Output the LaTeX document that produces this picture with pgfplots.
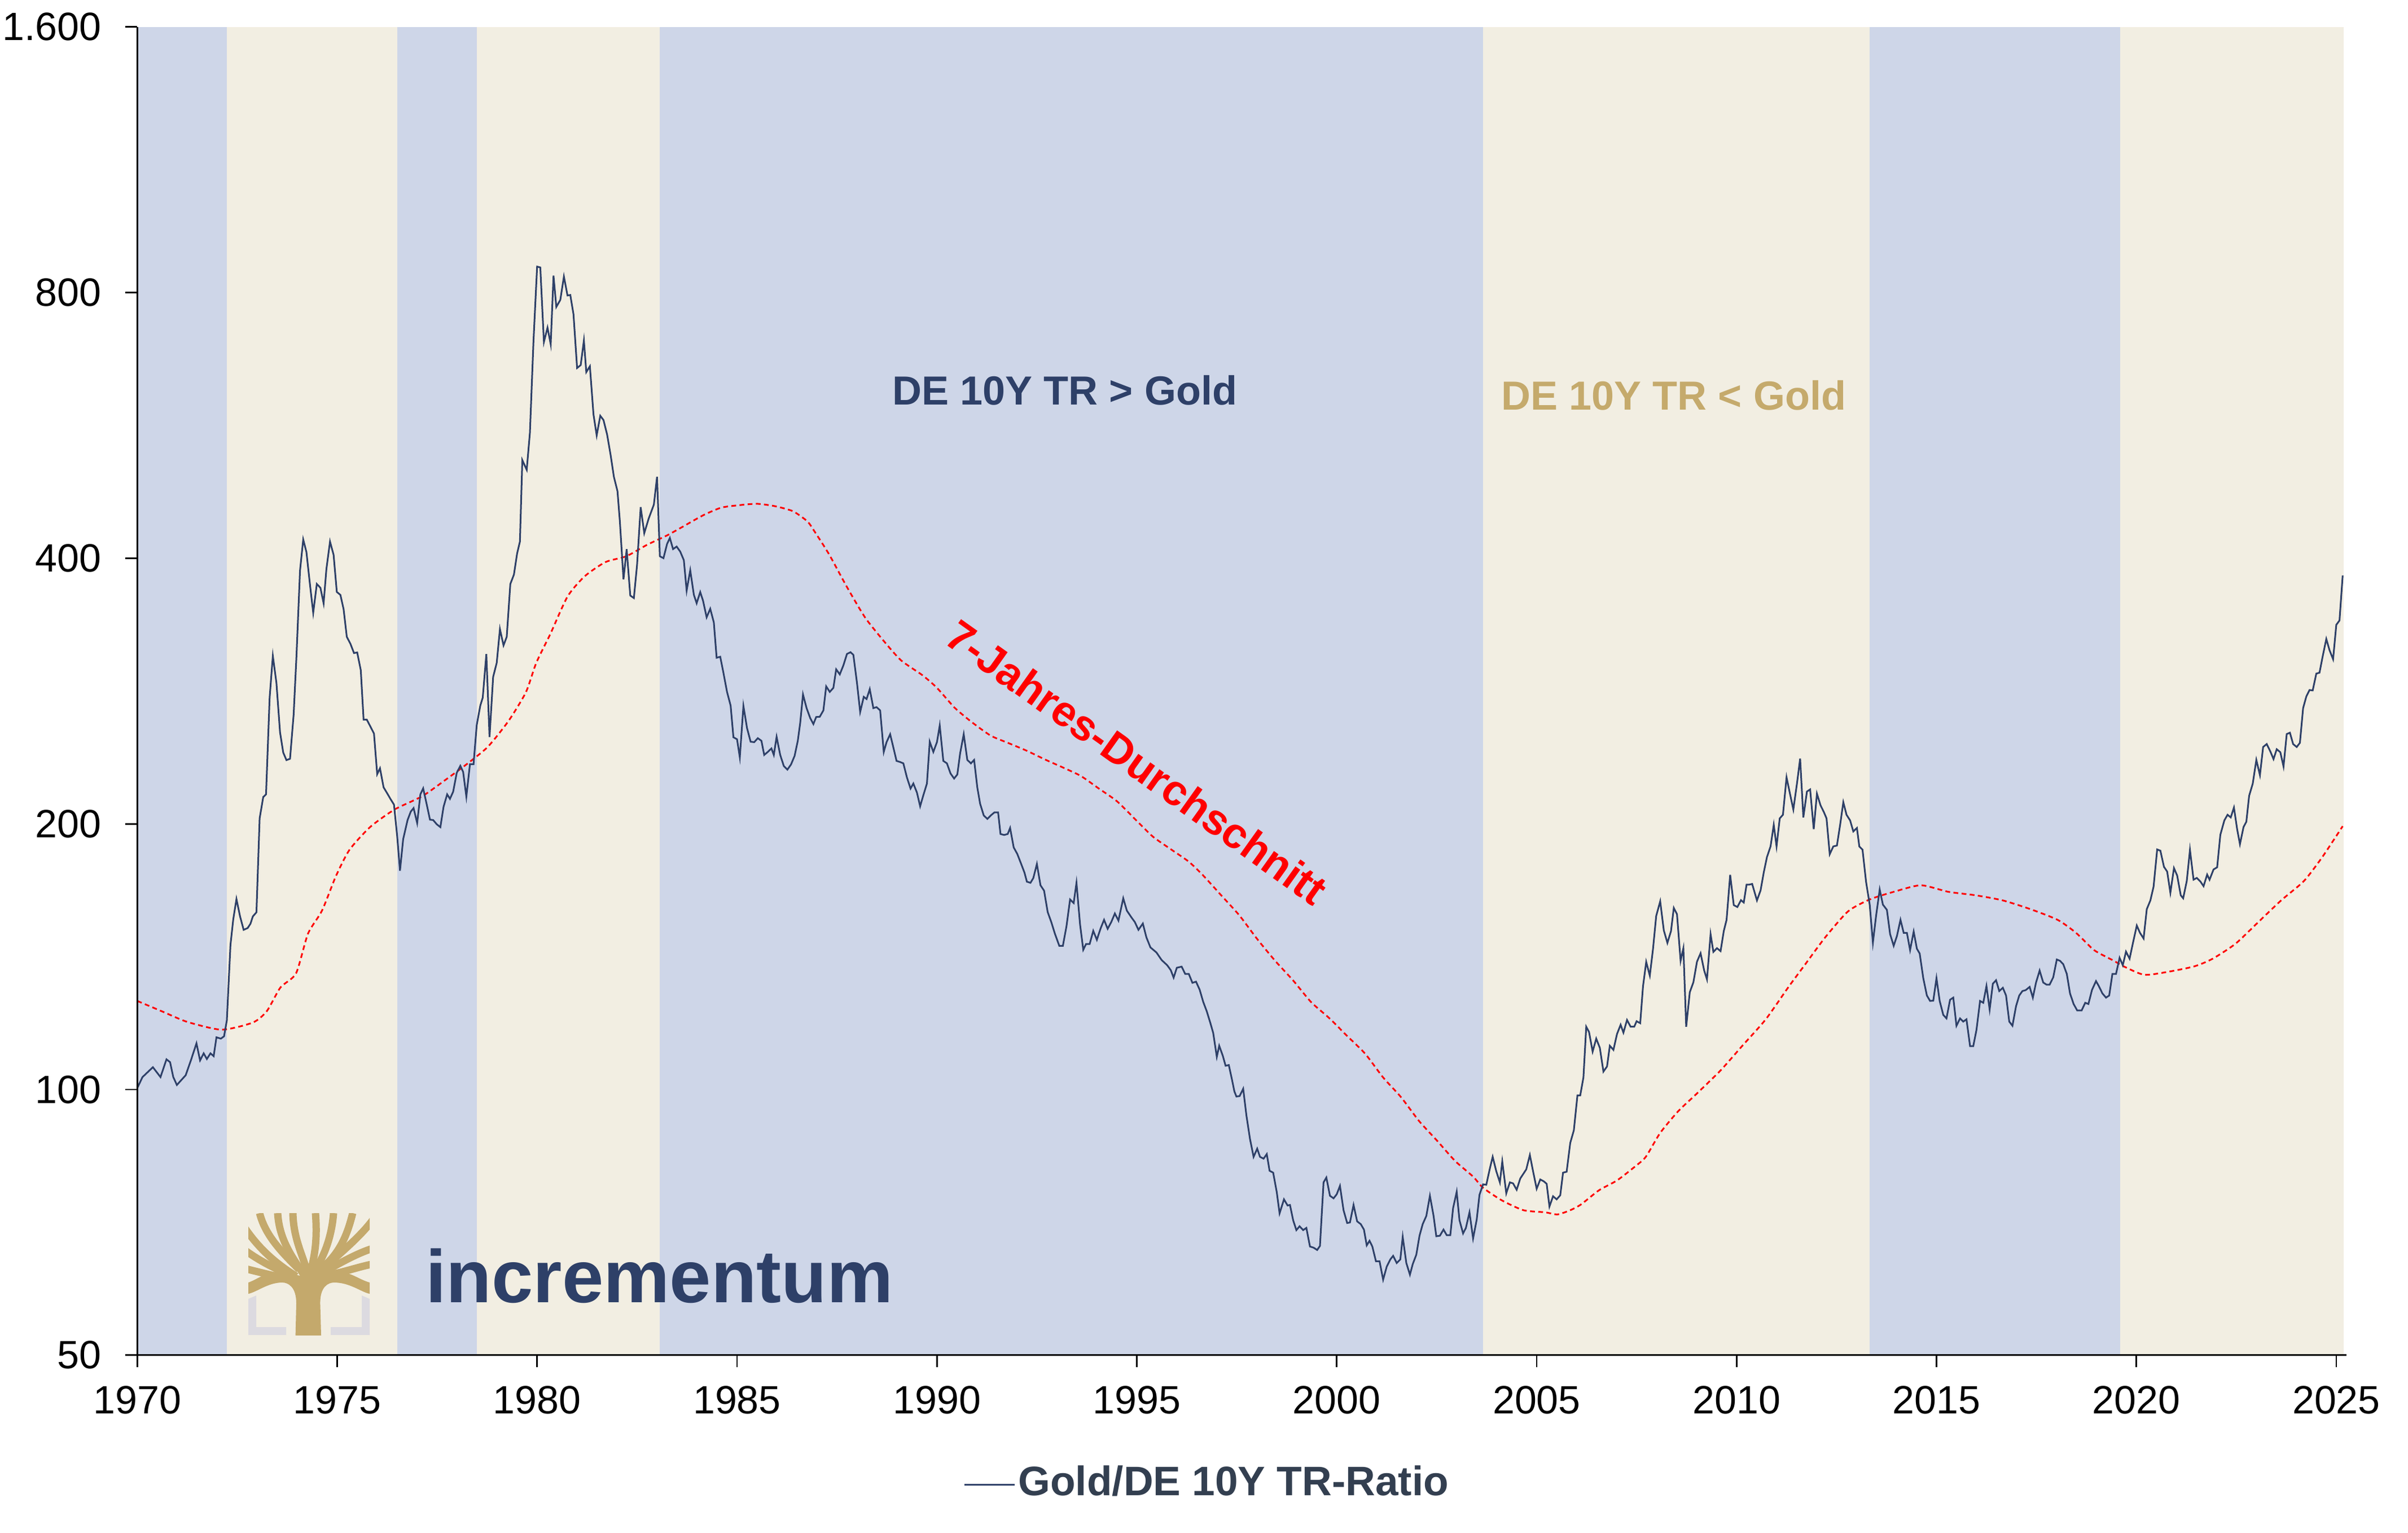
\documentclass[border=0pt]{standalone}
\usepackage{fontspec}
\setmainfont{Liberation Sans}
\usepackage{pgfplots}
\usepackage{pgfplotstable}
\pgfplotsset{compat=1.18}
\definecolor{navy}{HTML}{2E4068}
\definecolor{bandblue}{HTML}{CED6E8}
\definecolor{bandbeige}{HTML}{F2EEE2}
\definecolor{tan}{HTML}{C5AA6C}
\definecolor{legtext}{HTML}{333F50}
\definecolor{logogold}{HTML}{C4A96C}
\definecolor{logogrey}{HTML}{DCDAE0}
\begin{document}
\pgfplotstableread{
year val
1970.00 100.4
1970.13 103.3
1970.39 106.0
1970.58 103.3
1970.73 108.2
1970.82 107.4
1970.90 103.3
1970.99 101.2
1971.21 103.8
1971.34 107.9
1971.48 112.8
1971.57 107.9
1971.66 109.9
1971.74 108.3
1971.83 109.9
1971.91 109.1
1971.98 114.6
1972.09 114.2
1972.17 114.9
1972.24 119.8
1972.33 145.8
1972.40 155.9
1972.48 164.4
1972.57 157.1
1972.66 151.7
1972.76 152.4
1972.83 154.1
1972.89 157.1
1972.98 158.8
1973.06 202.9
1973.15 214.5
1973.22 216.0
1973.31 278.0
1973.39 310.0
1973.48 288.9
1973.57 254.0
1973.65 240.9
1973.73 236.2
1973.82 237.0
1973.91 265.8
1973.98 309.0
1974.07 387.4
1974.15 420.0
1974.23 406.5
1974.32 373.0
1974.40 346.9
1974.49 374.0
1974.58 370.3
1974.66 355.6
1974.73 389.0
1974.82 417.7
1974.91 403.5
1974.99 366.3
1975.08 363.5
1975.16 350.2
1975.24 325.8
1975.33 320.0
1975.42 312.3
1975.50 312.8
1975.59 298.6
1975.66 262.5
1975.74 262.5
1975.83 257.8
1975.92 253.1
1976.00 227.7
1976.07 231.2
1976.16 220.0
1976.25 216.6
1976.33 213.5
1976.42 210.3
1976.50 193.7
1976.57 177.0
1976.65 192.2
1976.76 202.0
1976.84 206.5
1976.91 208.4
1977.00 200.4
1977.08 216.0
1977.15 219.4
1977.24 210.3
1977.32 202.2
1977.40 202.0
1977.49 199.8
1977.58 198.3
1977.66 209.1
1977.75 216.0
1977.82 213.5
1977.90 217.5
1977.99 228.5
1978.08 232.7
1978.15 229.0
1978.23 214.7
1978.32 233.7
1978.41 233.7
1978.49 258.9
1978.58 272.4
1978.64 278.0
1978.73 311.5
1978.81 250.8
1978.90 293.4
1978.99 304.5
1979.07 332.5
1979.16 318.6
1979.24 325.8
1979.33 374.0
1979.42 383.3
1979.50 405.0
1979.57 417.7
1979.63 516.6
1979.74 503.7
1979.82 555.0
1979.91 706.0
1980.00 856.0
1980.08 854.0
1980.17 703.0
1980.26 730.0
1980.34 699.0
1980.41 836.0
1980.48 770.6
1980.58 784.7
1980.67 834.0
1980.76 794.0
1980.83 795.0
1980.91 755.8
1981.00 657.0
1981.09 662.0
1981.17 706.0
1981.23 650.0
1981.32 660.0
1981.41 582.0
1981.49 551.0
1981.58 580.0
1981.66 573.6
1981.75 552.5
1981.84 523.0
1981.92 494.7
1982.01 476.4
1982.07 440.2
1982.16 378.5
1982.24 409.5
1982.33 362.9
1982.42 360.5
1982.50 393.2
1982.59 457.0
1982.68 427.0
1982.79 443.5
1982.92 460.0
1983.00 494.7
1983.07 402.0
1983.16 400.0
1983.25 415.1
1983.32 421.7
1983.40 409.6
1983.49 412.3
1983.58 406.9
1983.67 397.9
1983.74 367.6
1983.83 387.6
1983.92 363.7
1983.99 355.7
1984.08 366.2
1984.15 358.0
1984.24 342.8
1984.33 350.6
1984.42 338.3
1984.49 308.5
1984.58 309.3
1984.66 296.6
1984.75 282.2
1984.84 272.3
1984.91 250.7
1985.00 249.4
1985.07 237.9
1985.16 272.0
1985.25 256.8
1985.34 247.8
1985.43 247.5
1985.52 250.1
1985.61 248.4
1985.68 239.4
1985.77 241.3
1985.86 243.5
1985.92 239.4
1985.99 251.0
1986.08 239.4
1986.17 232.6
1986.26 230.4
1986.35 233.5
1986.44 238.8
1986.52 248.4
1986.58 260.2
1986.65 280.3
1986.74 270.5
1986.83 263.6
1986.91 259.5
1986.98 264.3
1987.07 264.5
1987.16 268.9
1987.23 286.3
1987.32 282.2
1987.41 285.2
1987.48 299.3
1987.57 295.4
1987.66 302.4
1987.75 311.6
1987.84 313.0
1987.91 310.8
1988.00 289.0
1988.08 267.8
1988.17 278.6
1988.24 277.0
1988.32 284.2
1988.41 270.5
1988.49 271.2
1988.58 268.9
1988.67 241.3
1988.74 247.5
1988.83 252.7
1988.90 245.2
1988.99 235.7
1989.08 235.0
1989.16 234.2
1989.25 225.7
1989.34 219.3
1989.41 222.2
1989.50 217.0
1989.58 209.4
1989.66 215.5
1989.75 222.2
1989.82 247.8
1989.91 241.3
1990.00 247.5
1990.07 258.5
1990.16 235.7
1990.25 234.2
1990.34 228.1
1990.43 225.1
1990.51 227.5
1990.58 240.4
1990.67 252.7
1990.76 236.3
1990.85 234.2
1990.93 236.3
1991.01 219.9
1991.08 210.8
1991.17 204.5
1991.26 202.6
1991.35 204.5
1991.44 206.1
1991.53 206.1
1991.59 194.8
1991.68 194.3
1991.77 194.8
1991.83 197.9
1991.92 188.1
1992.01 184.9
1992.10 180.5
1992.19 176.1
1992.25 172.0
1992.34 171.5
1992.41 173.6
1992.50 180.1
1992.59 170.4
1992.68 168.0
1992.77 158.9
1992.86 154.8
1992.95 150.2
1993.06 145.5
1993.15 145.5
1993.24 153.1
1993.33 164.2
1993.42 162.7
1993.49 171.5
1993.58 153.8
1993.66 144.0
1993.73 146.2
1993.82 146.2
1993.91 151.3
1994.00 147.8
1994.09 152.1
1994.18 155.7
1994.27 152.1
1994.36 154.8
1994.45 158.3
1994.54 155.4
1994.66 164.7
1994.75 159.5
1994.86 156.8
1994.95 154.8
1995.04 151.7
1995.15 154.2
1995.24 148.7
1995.34 144.9
1995.49 143.0
1995.62 140.2
1995.76 138.3
1995.85 136.5
1995.92 133.9
1996.00 137.4
1996.12 137.8
1996.21 135.2
1996.30 135.2
1996.39 132.1
1996.48 132.5
1996.57 129.8
1996.66 125.7
1996.75 122.6
1996.84 118.9
1996.91 115.9
1997.00 108.9
1997.06 112.1
1997.15 109.2
1997.22 106.4
1997.30 106.6
1997.38 102.6
1997.44 99.5
1997.49 98.2
1997.57 98.3
1997.66 100.2
1997.74 93.5
1997.83 87.9
1997.92 83.9
1998.01 85.7
1998.08 83.9
1998.17 83.5
1998.25 84.5
1998.32 80.9
1998.41 80.5
1998.50 76.5
1998.57 72.4
1998.68 75.1
1998.77 73.9
1998.83 74.0
1998.91 71.1
1998.99 69.3
1999.07 70.0
1999.16 69.3
1999.24 69.7
1999.33 66.4
1999.42 66.2
1999.51 65.8
1999.58 66.5
1999.67 78.5
1999.74 79.5
1999.83 75.8
1999.92 75.3
2000.00 76.1
2000.08 77.8
2000.17 73.0
2000.26 70.6
2000.33 70.7
2000.42 74.0
2000.51 70.9
2000.60 70.4
2000.68 69.4
2000.75 66.6
2000.82 67.4
2000.89 66.4
2000.98 63.9
2001.07 63.9
2001.16 60.9
2001.25 63.0
2001.34 64.2
2001.41 64.8
2001.50 63.6
2001.59 64.2
2001.65 68.1
2001.74 63.6
2001.83 61.7
2001.90 63.4
2001.99 65.0
2002.07 68.3
2002.15 70.4
2002.24 71.9
2002.33 75.8
2002.42 72.0
2002.49 68.2
2002.58 68.3
2002.67 69.4
2002.75 68.4
2002.84 68.4
2002.91 73.4
2003.00 76.6
2003.07 71.1
2003.16 68.7
2003.23 69.7
2003.32 72.6
2003.41 67.8
2003.50 71.2
2003.57 76.0
2003.66 78.1
2003.74 78.0
2003.83 81.4
2003.90 83.9
2003.99 80.8
2004.08 78.5
2004.14 82.9
2004.24 76.3
2004.33 78.5
2004.41 78.3
2004.50 77.0
2004.59 79.3
2004.67 80.3
2004.74 81.2
2004.83 84.3
2004.91 80.8
2005.00 77.2
2005.09 79.1
2005.18 78.7
2005.25 78.2
2005.32 73.7
2005.41 75.7
2005.50 75.1
2005.59 75.9
2005.66 80.5
2005.75 80.7
2005.84 87.0
2005.93 89.9
2006.02 98.5
2006.09 98.5
2006.17 103.2
2006.24 117.8
2006.31 116.2
2006.40 110.4
2006.49 114.2
2006.58 111.5
2006.67 104.8
2006.76 106.2
2006.83 112.1
2006.92 110.9
2007.01 115.6
2007.10 118.4
2007.17 116.0
2007.26 119.9
2007.35 117.8
2007.44 117.8
2007.50 119.5
2007.59 118.9
2007.66 130.9
2007.74 139.5
2007.83 134.6
2007.91 144.3
2007.99 157.3
2008.09 163.4
2008.18 151.5
2008.27 146.6
2008.36 151.2
2008.43 160.6
2008.51 158.0
2008.60 139.9
2008.67 144.6
2008.74 117.8
2008.83 128.9
2008.92 132.3
2009.01 139.6
2009.10 142.7
2009.19 136.4
2009.26 133.3
2009.35 150.0
2009.42 143.2
2009.51 144.6
2009.60 143.5
2009.68 151.2
2009.75 155.7
2009.84 175.1
2009.93 161.8
2010.02 161.0
2010.11 163.9
2010.18 162.9
2010.25 170.7
2010.32 170.7
2010.39 171.0
2010.51 163.8
2010.60 168.1
2010.68 176.2
2010.76 183.4
2010.85 188.6
2010.93 199.5
2011.00 188.6
2011.08 202.9
2011.16 204.8
2011.25 225.8
2011.34 215.9
2011.42 207.6
2011.51 222.1
2011.59 237.1
2011.67 203.4
2011.76 217.6
2011.84 218.8
2011.93 197.3
2012.01 216.4
2012.10 209.9
2012.18 206.4
2012.25 202.9
2012.33 184.8
2012.42 188.6
2012.51 189.0
2012.59 199.5
2012.67 211.6
2012.75 204.8
2012.84 201.8
2012.92 196.1
2013.01 197.9
2013.07 188.6
2013.15 187.0
2013.24 171.8
2013.33 162.0
2013.41 146.7
2013.49 157.4
2013.58 168.5
2013.66 162.0
2013.76 159.8
2013.84 150.0
2013.93 145.5
2014.01 149.2
2014.10 155.7
2014.18 150.5
2014.26 150.5
2014.34 143.9
2014.43 151.0
2014.51 144.4
2014.58 142.6
2014.67 133.7
2014.76 127.8
2014.84 126.0
2014.92 126.1
2015.00 133.7
2015.08 126.0
2015.17 121.5
2015.25 120.4
2015.34 126.4
2015.42 127.1
2015.50 118.1
2015.59 120.4
2015.67 119.4
2015.75 120.1
2015.84 112.0
2015.92 112.0
2016.00 116.8
2016.09 126.0
2016.17 125.4
2016.25 131.0
2016.33 123.2
2016.41 131.8
2016.49 133.0
2016.57 129.3
2016.66 130.4
2016.74 127.8
2016.82 119.4
2016.90 118.1
2016.99 124.3
2017.07 127.8
2017.15 129.3
2017.23 129.6
2017.33 130.7
2017.41 127.1
2017.49 132.2
2017.58 136.4
2017.67 132.2
2017.75 131.5
2017.83 131.5
2017.92 134.0
2018.01 140.4
2018.09 139.9
2018.17 138.7
2018.26 135.2
2018.34 128.5
2018.43 125.0
2018.52 122.9
2018.63 122.9
2018.72 125.4
2018.80 125.0
2018.89 129.7
2018.99 132.7
2019.06 131.0
2019.15 128.5
2019.24 127.1
2019.32 127.8
2019.40 135.2
2019.49 135.2
2019.58 141.0
2019.66 138.3
2019.74 143.3
2019.83 140.7
2019.91 146.3
2020.01 153.4
2020.09 150.5
2020.18 148.3
2020.26 160.1
2020.35 163.8
2020.43 169.8
2020.52 187.1
2020.60 186.5
2020.69 178.8
2020.77 176.6
2020.85 167.1
2020.94 178.2
2021.02 174.8
2021.11 166.0
2021.17 164.7
2021.26 172.3
2021.34 186.9
2021.43 172.9
2021.51 173.7
2021.60 172.1
2021.68 170.0
2021.77 175.2
2021.83 172.9
2021.93 177.6
2022.02 178.6
2022.10 194.4
2022.20 201.8
2022.28 204.8
2022.36 203.4
2022.44 208.7
2022.52 197.3
2022.59 189.7
2022.68 198.4
2022.75 201.1
2022.82 215.2
2022.91 222.1
2023.00 236.3
2023.09 227.1
2023.17 244.4
2023.26 246.3
2023.35 241.6
2023.43 236.8
2023.51 243.0
2023.60 241.1
2023.68 232.3
2023.76 252.8
2023.84 253.7
2023.92 246.3
2024.01 244.4
2024.09 247.1
2024.17 270.5
2024.25 278.8
2024.33 283.6
2024.41 283.3
2024.50 296.0
2024.58 296.7
2024.66 309.7
2024.75 324.0
2024.83 314.7
2024.92 307.3
2025.00 336.2
2025.08 340.0
2025.16 382.4
}\golddata
\pgfplotstableread{
year val
1970.00 126.0
1970.64 122.5
1971.25 119.3
1972.11 116.9
1972.89 119.1
1973.24 122.7
1973.58 130.5
1973.97 135.4
1974.27 150.2
1974.62 159.5
1974.97 174.6
1975.31 187.0
1975.83 198.5
1976.44 207.7
1977.13 215.0
1977.73 224.7
1978.25 233.9
1978.77 244.6
1979.29 261.8
1979.72 282.0
1979.98 304.5
1980.33 328.2
1980.76 361.9
1981.19 381.6
1981.71 396.0
1982.23 402.0
1982.75 414.2
1983.25 424.5
1983.61 433.4
1984.15 447.3
1984.60 456.3
1985.05 459.3
1985.50 461.0
1985.95 458.1
1986.40 452.1
1986.76 440.3
1986.94 428.8
1987.30 404.2
1987.75 371.0
1988.20 342.8
1988.65 323.1
1989.10 306.5
1989.64 294.7
1990.00 285.2
1990.45 270.6
1990.90 260.2
1991.35 251.7
1991.80 246.8
1992.25 242.0
1992.70 236.6
1993.15 231.7
1993.60 226.6
1994.05 219.3
1994.50 212.2
1994.95 202.6
1995.40 193.5
1995.85 187.2
1996.30 181.2
1996.66 174.8
1997.11 166.0
1997.56 157.6
1998.01 148.1
1998.46 139.9
1998.91 132.9
1999.36 125.6
1999.81 120.5
2000.26 115.0
2000.71 109.8
2001.16 103.2
2001.61 98.0
2002.06 92.1
2002.51 87.5
2002.96 83.0
2003.41 79.7
2003.66 77.4
2004.13 74.9
2004.67 73.0
2005.21 72.6
2005.52 72.2
2005.84 73.0
2006.11 74.1
2006.56 76.9
2007.01 78.9
2007.46 81.8
2007.73 83.9
2008.09 89.3
2008.54 94.5
2008.97 98.6
2009.59 105.0
2010.16 112.3
2010.73 120.1
2011.30 130.7
2011.70 138.3
2012.22 148.8
2012.79 159.2
2013.33 164.2
2013.93 167.5
2014.61 170.4
2015.30 167.5
2015.98 166.0
2016.66 163.8
2017.35 160.1
2018.03 155.7
2018.49 150.5
2018.94 143.9
2019.40 140.2
2019.74 137.5
2020.20 134.9
2020.77 135.9
2021.45 137.9
2021.91 140.7
2022.48 146.3
2023.05 154.8
2023.62 163.8
2024.19 172.3
2024.65 183.4
2025.16 198.8
}\madata
\begin{tikzpicture}
\useasboundingbox (0,0) rectangle (426.7pt,271.7pt);
\begin{axis}[
  at={(24.33pt,31.5pt)}, anchor=south west,
  scale only axis, width=391.44pt, height=235.43pt,
  xmin=1970, xmax=2025.25,
  ymode=log, log basis y=2, ymin=50, ymax=1600,
  axis x line=bottom, axis y line=left,
  axis line style={-, black, line width=0.28pt},
  axis on top=true,
  tick align=outside, major tick length=2.1pt,
  tick style={black, line width=0.28pt},
  minor tick num=0,
  xtick={1970,1975,1980,1985,1990,1995,2000,2005,2010,2015,2020,2025},
  xticklabels={1970,1975,1980,1985,1990,1995,2000,2005,2010,2015,2020,2025},
  ytick={50,100,200,400,800,1600},
  yticklabels={50,100,200,400,800,1.600},
  ticklabel style={font=\fontsize{7}{8}\selectfont, text=black},
  xticklabel style={anchor=north, inner sep=0pt, yshift=-3.2pt},
  yticklabel style={anchor=east, inner sep=0pt, xshift=-4.1pt},
  /pgf/number format/assume math mode=true,
  clip=false,
  legend style={at={(0.4845,-0.0977)}, anchor=center, draw=none, fill=none,
    font=\fontsize{7.3}{8}\selectfont\bfseries, text=legtext, inner sep=0pt,
    nodes={inner sep=0.5pt}},
  legend image code/.code={\draw[#1] (0pt,0pt) -- (8.9pt,0pt);},
]
\addplot[fill=bandblue, draw=none, forget plot] coordinates {(1970,50) (1970,1600) (1972.24,1600) (1972.24,50)};
\addplot[fill=bandbeige, draw=none, forget plot] coordinates {(1972.24,50) (1972.24,1600) (1976.5,1600) (1976.5,50)};
\addplot[fill=bandblue, draw=none, forget plot] coordinates {(1976.5,50) (1976.5,1600) (1978.49,1600) (1978.49,50)};
\addplot[fill=bandbeige, draw=none, forget plot] coordinates {(1978.49,50) (1978.49,1600) (1983.07,1600) (1983.07,50)};
\addplot[fill=bandblue, draw=none, forget plot] coordinates {(1983.07,50) (1983.07,1600) (2003.66,1600) (2003.66,50)};
\addplot[fill=bandbeige, draw=none, forget plot] coordinates {(2003.66,50) (2003.66,1600) (2013.33,1600) (2013.33,50)};
\addplot[fill=bandblue, draw=none, forget plot] coordinates {(2013.33,50) (2013.33,1600) (2019.59,1600) (2019.59,50)};
\addplot[fill=bandbeige, draw=none, forget plot] coordinates {(2019.59,50) (2019.59,1600) (2025.18,1600) (2025.18,50)};
\addplot[red, line width=0.3pt, dash pattern=on 0.85pt off 0.6pt, smooth, tension=0.4, forget plot] table[x=year,y=val]{\madata};
\addplot[navy, line width=0.3pt] table[x=year,y=val]{\golddata};
\addlegendentry{Gold/DE 10Y TR-Ratio}
\node[font=\fontsize{7.2}{8}\selectfont\bfseries, text=navy, inner sep=0pt] at (axis cs:1993.2,620) {DE 10Y TR > Gold};
\node[font=\fontsize{7.2}{8}\selectfont\bfseries, text=tan, inner sep=0pt] at (axis cs:2008.43,612) {DE 10Y TR < Gold};
\node[font=\fontsize{7.6}{8}\selectfont\bfseries, text=red, inner sep=0pt, rotate=-35.5] at (axis cs:1995.0,235) {7-Jahres-Durchschnitt};
\end{axis}
\begin{scope}[shift={(0pt,271.7pt)}, x=0.1pt, y=-0.1pt]
  \fill[logogrey] (440,2302) -- (454,2296) -- (454,2352) -- (507,2352) -- (507,2366) -- (440,2366) -- cycle;
  \fill[logogrey] (655,2302) -- (641,2296) -- (641,2352) -- (586,2352) -- (586,2366) -- (655,2366) -- cycle;
  \begin{scope}
    \clip (440,2150) rectangle (655,2295);
    \begin{scope}[logogold, line width=1.3pt]
      \draw (546,2262) .. controls (540,2230) and (520,2200) .. (519,2150);
      \draw (548,2262) .. controls (560,2220) and (562,2190) .. (559,2150);
      \draw (550,2262) .. controls (575,2230) and (588,2190) .. (591,2150);
      \draw (555,2258) .. controls (600,2230) and (615,2190) .. (625,2150);
      \draw (565,2255) .. controls (610,2215) and (640,2190) .. (662,2160);
      \draw (560,2262) .. controls (600,2240) and (630,2222) .. (662,2212);
      \draw (570,2262) .. controls (610,2255) and (635,2245) .. (662,2240);
      \draw (540,2262) .. controls (520,2230) and (495,2200) .. (492,2150);
      \draw (530,2250) .. controls (500,2220) and (470,2190) .. (460,2150);
      \draw (525,2262) .. controls (490,2240) and (460,2215) .. (433,2175);
      \draw (520,2262) .. controls (490,2250) and (460,2235) .. (433,2215);
      \draw (515,2268) .. controls (490,2262) and (460,2255) .. (433,2248);
    \end{scope}
  \end{scope}
  \fill[logogold] (523.6,2366.7) -- (525,2310) .. controls (525,2280) and (510,2273) .. (500,2273)
    .. controls (475,2273) and (455,2290) .. (440,2293) -- (440,2273)
    .. controls (455,2268) and (470,2255) .. (490,2254)
    .. controls (510,2254) and (525,2262) .. (546,2262)
    .. controls (567,2262) and (582,2254) .. (602,2254)
    .. controls (622,2255) and (637,2268) .. (655,2273) -- (655,2293)
    .. controls (640,2290) and (620,2273) .. (592,2273)
    .. controls (582,2273) and (567,2280) .. (567.4,2310) -- (569,2366.7) -- cycle;
  \node[anchor=base west, inner sep=0pt, text=navy, font=\fontsize{13.2}{14}\selectfont\bfseries] at (752,2308) {incrementum};
\end{scope}
\end{tikzpicture}
\end{document}
